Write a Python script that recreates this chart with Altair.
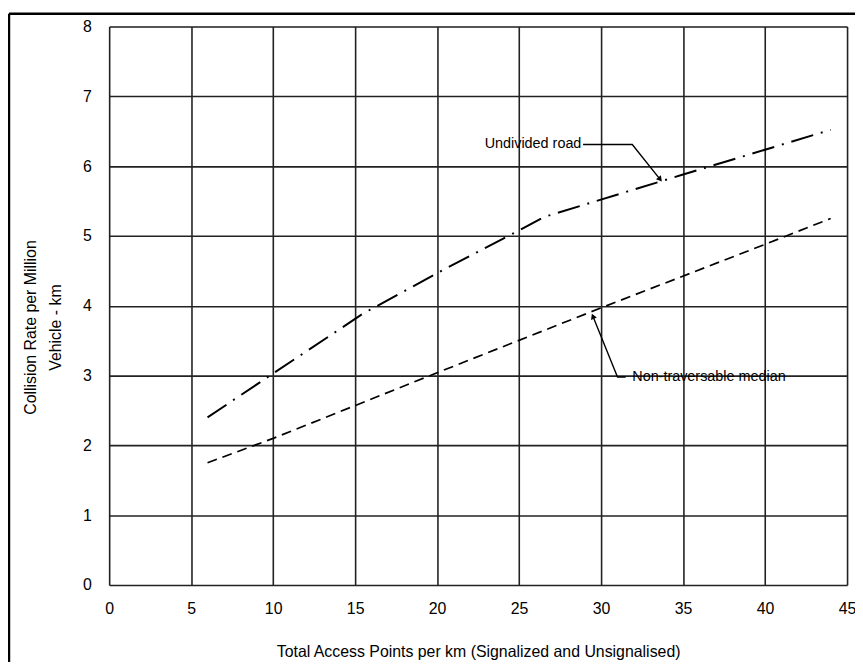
import altair as alt
import pandas as pd

# Undivided road (dash-dot curve)
undiv_x = [6, 10, 15.5, 20.5, 25, 26.5, 35, 44]
undiv_y = [2.4, 3.03, 3.89, 4.53, 5.08, 5.27, 5.88, 6.52]

# Non-traversable median (dashed curve)
median_x = [6, 10, 20, 30, 40, 44]
median_y = [1.75, 2.10, 3.04, 3.97, 4.88, 5.25]

x_ticks = [0, 5, 10, 15, 20, 25, 30, 35, 40, 45]
y_ticks = [0, 1, 2, 3, 4, 5, 6, 7, 8]

# annotation labels and leader lines (data coords)
ann_text = ["Undivided road", "Non-traversable median"]
ann_tx = [22.9, 31.9]
ann_ty = [6.31, 2.98]
lead_undiv_x = [28.9, 31.9, 33.6]
lead_undiv_y = [6.31, 6.31, 5.81]
lead_med_x = [31.5, 31.0, 29.5]
lead_med_y = [2.98, 2.98, 3.85]
arrow_x = [33.6, 29.5]
arrow_y = [5.81, 3.85]
arrow_angle = [141, 338]

FONT = "Liberation Sans"

df_u = pd.DataFrame({"x": undiv_x, "y": undiv_y})
df_m = pd.DataFrame({"x": median_x, "y": median_y})
df_t = pd.DataFrame({"x": ann_tx, "y": ann_ty, "t": ann_text})
df_lu = pd.DataFrame({"x": lead_undiv_x, "y": lead_undiv_y, "o": [0, 1, 2]})
df_lm = pd.DataFrame({"x": lead_med_x, "y": lead_med_y, "o": [0, 1, 2]})
df_a = pd.DataFrame({"x": arrow_x, "y": arrow_y, "a": arrow_angle})

xs = alt.Scale(domain=[0, 45], nice=False, zero=False)
ys = alt.Scale(domain=[0, 8], nice=False, zero=False)

xaxis = alt.Axis(values=x_ticks, format="d", title="Total Access Points per km (Signalized and Unsignalised)",
                 grid=True, gridColor="#222222", gridWidth=1.6, gridOpacity=1,
                 ticks=False, domain=False, labelPadding=16, labelFontSize=16,
                 labelColor="black", labelFont=FONT, titleFont=FONT, titleFontSize=16,
                 titleFontWeight="normal", titleColor="black", titlePadding=27,
                 labelFlush=False)
yaxis = alt.Axis(values=y_ticks, format="d", title=["Collision Rate per Million", "Vehicle - km"],
                 grid=True, gridColor="#222222", gridWidth=1.6, gridOpacity=1,
                 ticks=False, domain=False, labelPadding=18, labelFontSize=16,
                 labelColor="black", labelFont=FONT, titleFont=FONT, titleFontSize=16,
                 titleFontWeight="normal", titleColor="black", titleAngle=-90,
                 titleX=-87, titleY=303, titleAlign="center", titleBaseline="top",
                 titleLineHeight=25, labelFlush=False)

base_u = alt.Chart(df_u).mark_line(color="black", strokeWidth=2, strokeDash=[23, 8, 2, 8]).encode(
    x=alt.X("x:Q", scale=xs, axis=xaxis),
    y=alt.Y("y:Q", scale=ys, axis=yaxis),
)
line_m = alt.Chart(df_m).mark_line(color="black", strokeWidth=1.7, strokeDash=[10, 6]).encode(
    x=alt.X("x:Q", scale=xs), y=alt.Y("y:Q", scale=ys))

texts = alt.Chart(df_t).mark_text(align="left", baseline="middle", font=FONT, fontSize=14.5,
                                  color="black").encode(
    x=alt.X("x:Q", scale=xs), y=alt.Y("y:Q", scale=ys), text="t:N")

lead_u = alt.Chart(df_lu).mark_line(color="black", strokeWidth=1.4).encode(
    x=alt.X("x:Q", scale=xs), y=alt.Y("y:Q", scale=ys), order="o:Q")
lead_m = alt.Chart(df_lm).mark_line(color="black", strokeWidth=1.4).encode(
    x=alt.X("x:Q", scale=xs), y=alt.Y("y:Q", scale=ys), order="o:Q")
arrows = alt.Chart(df_a).mark_point(shape="triangle-up", filled=True, color="black", size=40,
                                    opacity=1).encode(
    x=alt.X("x:Q", scale=xs), y=alt.Y("y:Q", scale=ys), angle=alt.Angle("a:Q", scale=None))

frame_df = pd.DataFrame({"a": [0]})
left_border = alt.Chart(frame_df).mark_rule(color="black", strokeWidth=2.5).encode(
    x=alt.value(-101), y=alt.value(-13), y2=alt.value(700))
top_border = alt.Chart(frame_df).mark_rule(color="black", strokeWidth=2.5).encode(
    x=alt.value(-101), x2=alt.value(800), y=alt.value(-13))

chart = alt.layer(base_u, line_m, lead_u, lead_m, arrows, texts, left_border, top_border).properties(
    width=744, height=563,
    autosize=alt.AutoSizeParams(type="none"),
    padding={"left": 102, "top": 16, "right": 8, "bottom": 75},
).configure_view(stroke="black", strokeWidth=2).configure(background="white")

chart.save("out.html", embed_options={"renderer": "svg", "actions": False})
